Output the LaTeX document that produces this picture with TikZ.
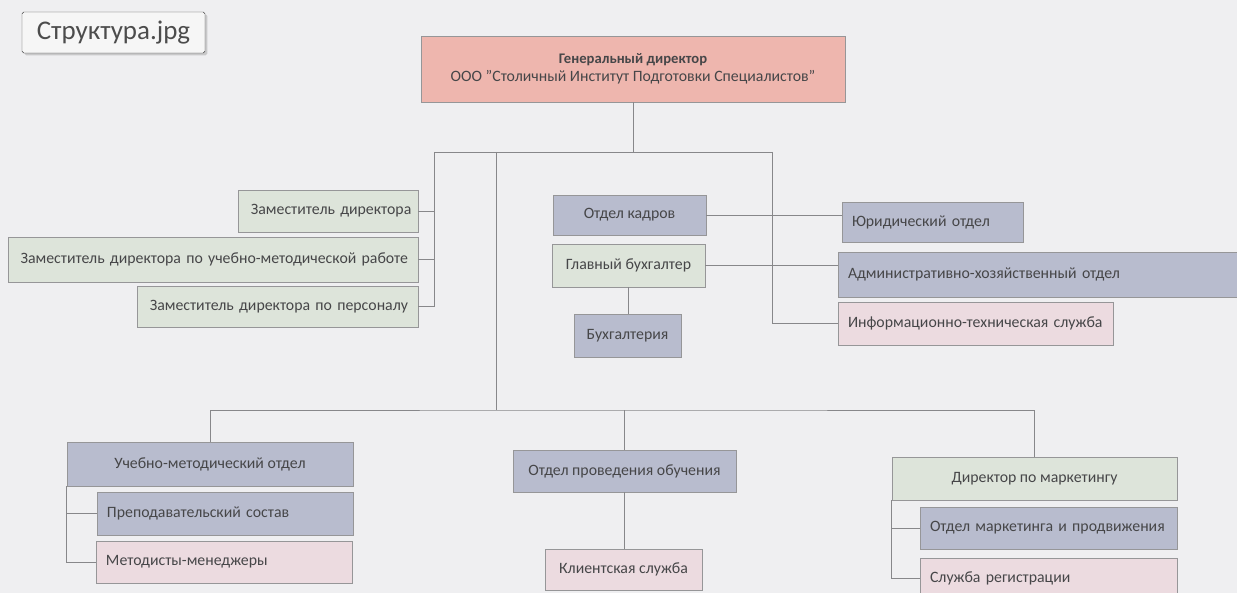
\documentclass[tikz,border=0pt]{standalone}
\usepackage{fontspec}
\setmainfont{Carlito}
\usetikzlibrary{positioning, shadows}

\definecolor{pageBg}{RGB}{239,239,241}
\definecolor{cSalmon}{RGB}{238,182,174}
\definecolor{cGreen}{RGB}{221,228,218}
\definecolor{cBlue}{RGB}{184,188,206}
\definecolor{cPink}{RGB}{236,219,224}
\definecolor{edgeGray}{RGB}{150,150,152}
\definecolor{wireGray}{RGB}{135,135,138}
\definecolor{textGray}{RGB}{70,70,72}

\begin{document}
\begin{tikzpicture}[x=0.03cm, y=-0.03cm,
    unit/.style={draw=edgeGray, line width=0.7pt, inner xsep=0.3cm, inner ysep=0pt,
      text=textGray, font=\fontsize{13.5}{15}\selectfont},
    unitG/.style={unit, fill=cGreen},
    unitB/.style={unit, fill=cBlue},
    unitP/.style={unit, fill=cPink},
    wire/.style={draw=wireGray, line width=0.7pt}]
  \useasboundingbox (0,0) rectangle (1237,593);
  \fill[pageBg] (0,0) rectangle (1237,593);

  % file label
  \node[draw=black!75, fill=white!93!gray, rounded corners=1.5pt,
    drop shadow={shadow xshift=2pt, shadow yshift=-2pt, opacity=0.35},
    minimum width=5.49cm, minimum height=1.23cm, text=black!70,
    font=\fontsize{23}{26}\selectfont] (title) at (113.5,32.5) {Структура.jpg};

  % head
  \node[unit, fill=cSalmon, minimum width=12.72cm, minimum height=1.98cm, align=center]
    (gd) at (633,69) {{\fontsize{12.5}{15}\selectfont\textbf{Генеральный директор}}\\ООО "Столичный Институт Подготовки Специалистов"};

  % deputies
  \node[unitG, minimum height=1.26cm, inner xsep=0.2cm, text width=5.0cm, align=right] (dep1) at (328,211) {Заместитель директора};
  \node[unitG, minimum height=1.35cm, text width=11.7cm, align=right] (dep2) at (213,259.5) {Заместитель директора по учебно-методической работе};
  \node[unitG, minimum height=1.23cm, text width=7.83cm, align=right] (dep3) at (277.5,306.5) {Заместитель директора по персоналу};

  % centre column
  \node[unitB, minimum width=4.59cm, minimum height=1.2cm] (hr) at (629.5,215) {Отдел кадров};
  \node[unitG, minimum width=4.59cm, minimum height=1.29cm] (acc) at (628.5,265.5) {Главный бухгалтер};
  \node[unitB, minimum width=3.21cm, minimum height=1.29cm] (buh) at (627.5,335.5) {Бухгалтерия};

  % right column
  \node[unitB, minimum height=1.2cm, text width=4.83cm, align=left] (law) at (932.5,222) {Юридический отдел};
  \node[unitB, minimum height=1.35cm, text width=11.61cm, align=left] (ahd) at (1041.5,274.5) {Административно-хозяйственный отдел};
  \node[unitP, minimum height=1.29cm, text width=7.65cm, align=left] (its) at (975.5,323.5) {Информационно-техническая служба};

  % lower level
  \node[unitB, minimum width=8.58cm, minimum height=1.32cm] (umo) at (210,464) {Учебно-методический отдел};
  \node[unitB, minimum height=1.29cm, text width=7.08cm, align=left] (ps) at (225,513.5) {Преподавательский состав};
  \node[unitP, minimum height=1.26cm, text width=7.08cm, align=left] (mm) at (224,562) {Методисты-менеджеры};

  \node[unitB, minimum width=6.69cm, minimum height=1.26cm] (opo) at (624.5,471) {Отдел проведения обучения};
  \node[unitP, minimum width=4.71cm, minimum height=1.23cm] (kl) at (623.5,569.5) {Клиентская служба};

  \node[unitG, minimum width=8.55cm, minimum height=1.29cm] (mkt) at (1034.5,478.5) {Директор по маркетингу};
  \node[unitB, minimum height=1.26cm, text width=7.11cm, align=left] (omp) at (1048.5,528) {Отдел маркетинга и продвижения};
  \node[unitP, minimum height=1.2cm, text width=7.11cm, align=left] (sr) at (1048.5,578) {Служба регистрации};

  % connectors
  \coordinate (busL) at (434,152);
  \coordinate (busM) at (496,152);
  \coordinate (busR) at (772,152);
  \coordinate (lowbus) at (624.5,410);

  \draw[wire] (gd.south) -- (gd.south |- busL);
  \draw[wire] (busL) -- (busR);
  \draw[wire] (busL) |- (dep3.east);
  \draw[wire] (dep1.east) -- (dep1.east -| busL);
  \draw[wire] (dep2.east) -- (dep2.east -| busL);
  \draw[wire] (busR) |- (its.west);
  \draw[wire] (hr.east) -- (hr.east -| law.west);
  \draw[wire] (acc.east) -- (acc.east -| ahd.west);
  \draw[wire] (acc.south) -- (acc.south |- buh.north);
  \draw[wire] (busM) -- (busM |- lowbus);
  \draw[wire] (umo.north) |- (lowbus) -| (mkt.north);
  \draw[wire] (lowbus) -- (lowbus |- opo.north);
  \draw[wire] (opo.south) -- (opo.south |- kl.north);
  \draw[wire] (umo.south west) |- (mm.west);
  \draw[wire] (umo.south west |- ps.west) -- (ps.west);
  \draw[wire] (mkt.south west) |- (sr.west);
  \draw[wire] (mkt.south west |- omp.west) -- (omp.west);
\end{tikzpicture}
\end{document}
